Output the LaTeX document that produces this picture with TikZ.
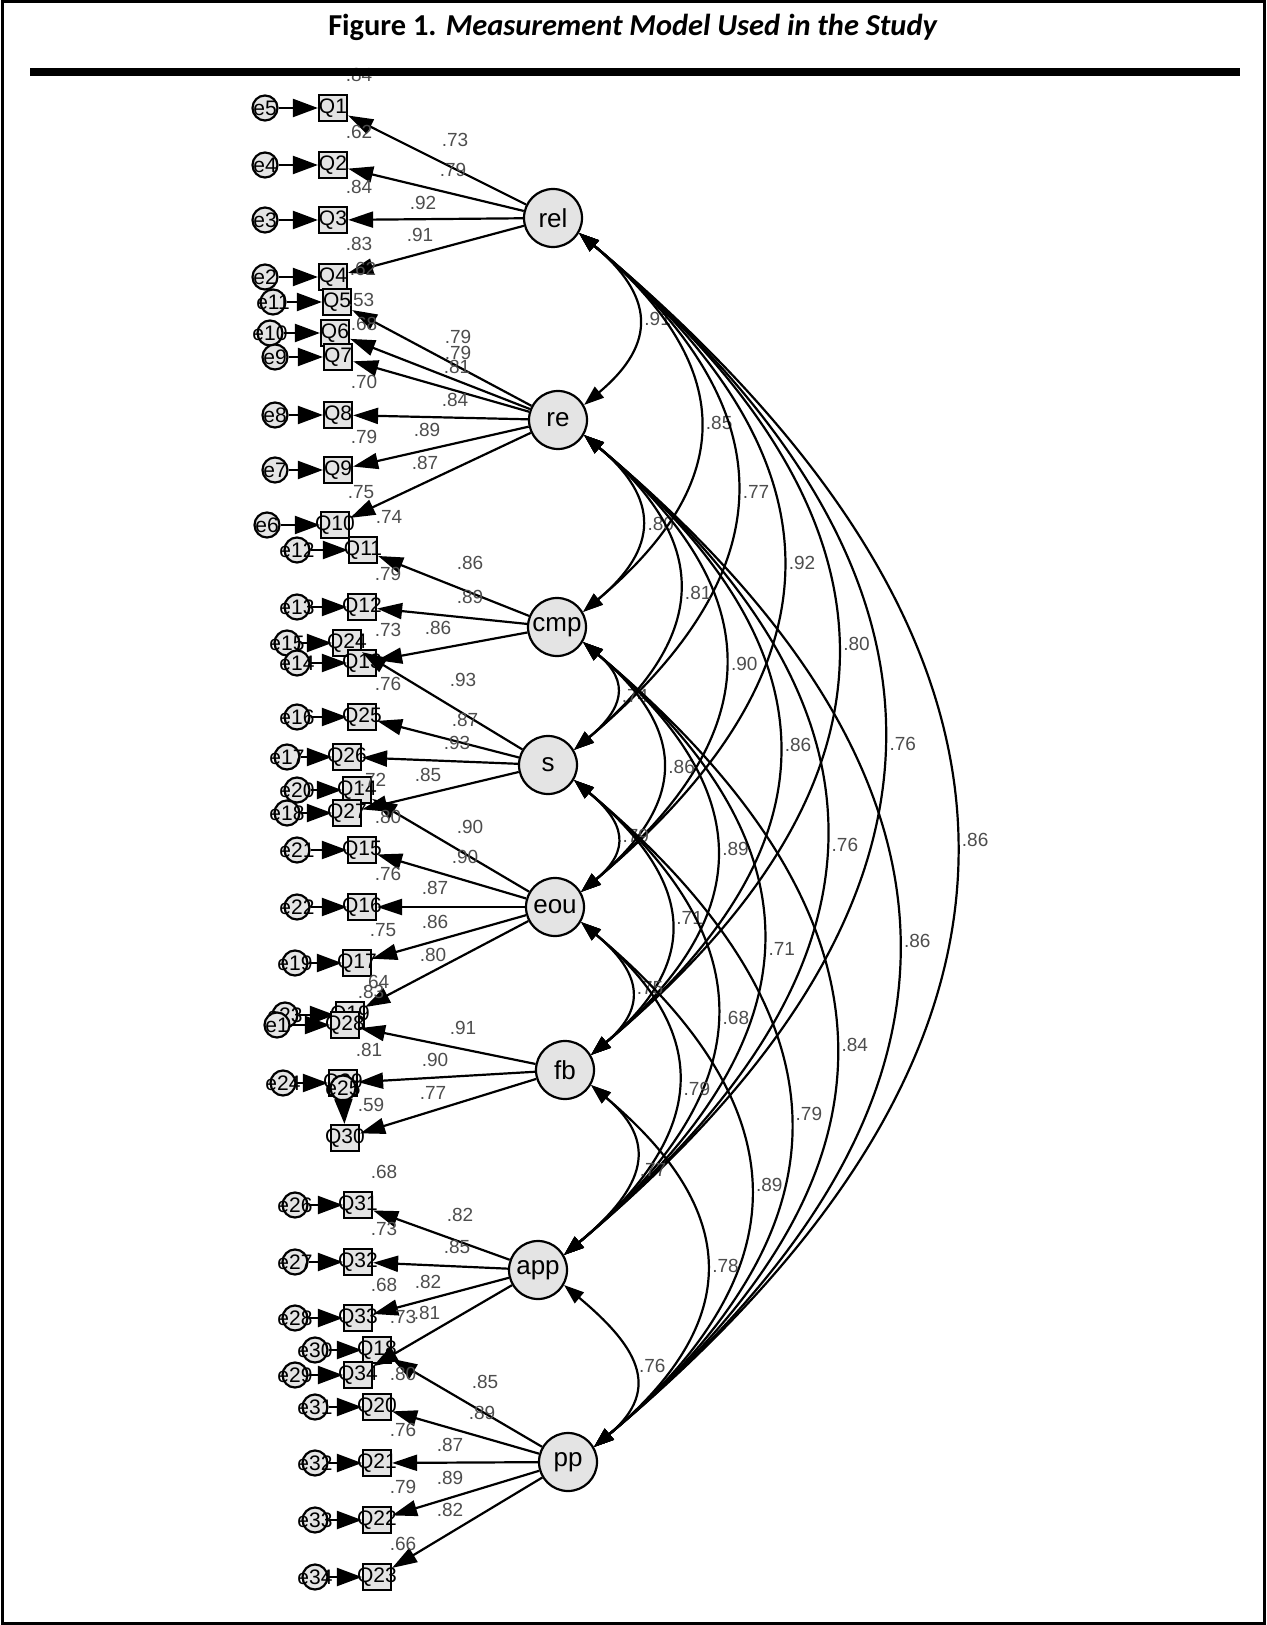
\documentclass[tikz,border=0pt]{standalone}
\usepackage{fontspec}
\setmainfont{Liberation Sans}
\newfontfamily\titlefont{Carlito}
\usetikzlibrary{arrows.meta,calc}
\definecolor{nodegray}{HTML}{E4E4E4}
\definecolor{valgray}{HTML}{4D4D4D}

\begin{document}
\begin{tikzpicture}[x=0.5pt, y=0.5pt,
  lat/.style={circle, draw, line width=1.1pt, fill=nodegray, minimum size=29pt, inner sep=0pt, font=\fontsize{13}{13}\selectfont},
  obs/.style={rectangle, draw, line width=1.1pt, fill=nodegray, minimum width=14pt, minimum height=13pt, inner sep=0pt, font=\fontsize{10.5}{10}\selectfont},
  err/.style={circle, draw, line width=1.1pt, fill=nodegray, minimum size=12.5pt, inner sep=0pt, font=\fontsize{10.5}{10}\selectfont},
  val/.style={font=\fontsize{9.5}{10}\selectfont, text=valgray, inner sep=1pt},
  load/.style={line width=1.1pt, -{Triangle[length=12.5pt,width=8pt]}},
  earr/.style={line width=1.1pt, -{Triangle[length=12.5pt,width=9pt]}},
  cov/.style={line width=1.1pt, {Triangle[length=10pt,width=7pt]}-{Triangle[length=10pt,width=7pt]}}
]
  \useasboundingbox (0,0) rectangle (1266,-1625);
  \draw[line width=1.5pt] (2,-2) rectangle (1264,-1623);
  \node[font=\titlefont\fontsize{15.2}{18}\selectfont] (title) at (633,-27)
    {\textbf{Figure 1.} \textbf{\textit{Measurement Model Used in the Study}}};

  % latent factors
  \foreach \n/\x/\y in {rel/553/218, re/558/420, cmp/557/627, s/548/765,
                         eou/555/907, fb/565/1070, app/538/1270, pp/568/1462}
    \node[lat] (\n) at (\x,-\y) {\n};

  % indicators and their errors
  \foreach \n/\x/\y/\q/\e/\ex in {1/333/108/Q1/e5/265, 2/333/165/Q2/e4/265, 3/333/220/Q3/e3/265,
      4/333/277/Q4/e2/265, 5/337/302/Q5/e11/273, 6/335/333/Q6/e10/270, 7/338/357/Q7/e9/275,
      8/338/415/Q8/e8/275, 9/338/470/Q9/e7/275, 10/335/525/Q10/e6/267,
      11/363/550/Q11/e12/297, 12/362/607/Q12/e13/297, 24/347/643/Q24/e15/287, 13/362/663/Q13/e14/297,
      25/362/717/Q25/e16/297, 26/347/757/Q26/e17/287, 14/357/790/Q14/e20/297, 27/347/813/Q27/e18/287,
      15/362/850/Q15/e21/297, 16/362/907/Q16/e22/297, 17/357/963/Q17/e19/295,
      19/350/1015/Q19/e23/285, 28/345/1025/Q28/e1/277, 29/343/1083/Q29/e24/283,
      31/358/1205/Q31/e26/295, 32/358/1262/Q32/e27/295, 33/358/1318/Q33/e28/295,
      18/377/1350/Q18/e30/315, 34/358/1375/Q34/e29/295, 20/377/1407/Q20/e31/315,
      21/377/1463/Q21/e32/315, 22/377/1520/Q22/e33/315, 23/377/1577/Q23/e34/315}{
    \node[obs] (q\n) at (\x,-\y) {\makebox[0pt]{\q}};
    \node[err] (e\n) at (\ex,-\y) {\makebox[0pt]{\e}};
    \draw[earr] (e\n) -- (q\n);
  }
  \node[obs] (q30) at (345,-1138) {\makebox[0pt]{Q30}};
  \node[err] (e30) at (343,-1088) {\makebox[0pt]{e25}};
  \draw[earr] (e30) -- (q30);

  % covariances
  \foreach \a/\b/\v/\d in {rel/re/.91/97, rel/cmp/.85/205, rel/s/.77/277, rel/eou/.92/351,
      rel/fb/.80/437, rel/app/.76/541, rel/pp/.86/641,
      re/cmp/.80/99, re/s/.81/172, re/eou/.90/246, re/fb/.86/331, re/app/.76/436, re/pp/.86/536,
      cmp/s/.74/63, cmp/eou/.86/138, cmp/fb/.89/223, cmp/app/.71/327, cmp/pp/.84/428,
      s/eou/.79/66, s/fb/.71/151, s/app/.68/255, s/pp/.79/356,
      eou/fb/.75/76, eou/app/.79/181, eou/pp/.89/281,
      fb/app/.77/96, fb/pp/.78/196, app/pp/.76/92}
    \draw[cov] (\a.-30) .. controls +(-40:\d) and +(40:\d) .. (\b.30)
      node[val, pos=.5, right=2pt] (c\a\b) {\v};

  % loadings
  \foreach \n/\l/\v/\x/\y in {1/rel/.73/455/140, 2/rel/.79/453/170, 3/rel/.92/423/203, 4/rel/.91/420/235,
      5/re/.79/458/337, 6/re/.79/458/353, 7/re/.81/457/367, 8/re/.84/455/400, 9/re/.89/427/430,
      10/re/.87/425/463, 11/cmp/.86/470/563, 12/cmp/.89/470/597, 13/cmp/.86/438/628,
      24/s/.93/463/680, 25/s/.87/465/720, 26/s/.93/457/743, 27/s/.85/428/775,
      14/eou/.90/470/827, 15/eou/.90/465/857, 16/eou/.87/435/888, 17/eou/.86/435/922,
      19/eou/.80/433/955, 28/fb/.91/463/1028, 29/fb/.90/435/1060, 30/fb/.77/433/1093,
      31/app/.82/460/1215, 32/app/.85/457/1247, 33/app/.82/428/1282, 34/app/.81/427/1313,
      18/pp/.85/485/1382, 20/pp/.89/482/1413, 21/pp/.87/450/1445, 22/pp/.89/450/1478,
      23/pp/.82/450/1510}{
    \draw[load] (\l) -- (q\n);
    \node[val] (w\n) at (\x,-\y) {\v};
  }

  % squared multiple correlations
  \foreach \n/\v in {1/.84, 2/.62, 3/.84, 4/.83, 5/.62, 6/.53, 7/.68, 8/.70, 9/.79, 10/.75,
      11/.74, 12/.79, 13/.73, 25/.76, 27/.72, 15/.80, 16/.76, 17/.75, 19/.64, 28/.83,
      29/.81, 30/.59, 31/.68, 32/.73, 33/.68, 18/.73, 20/.80, 21/.76, 22/.79, 23/.66}
    \node[val] (r\n) at ($(q\n)+(26,33)$) {\v};

  \draw[line width=4pt] (30,-72) -- (1240,-72);
\end{tikzpicture}
\end{document}
